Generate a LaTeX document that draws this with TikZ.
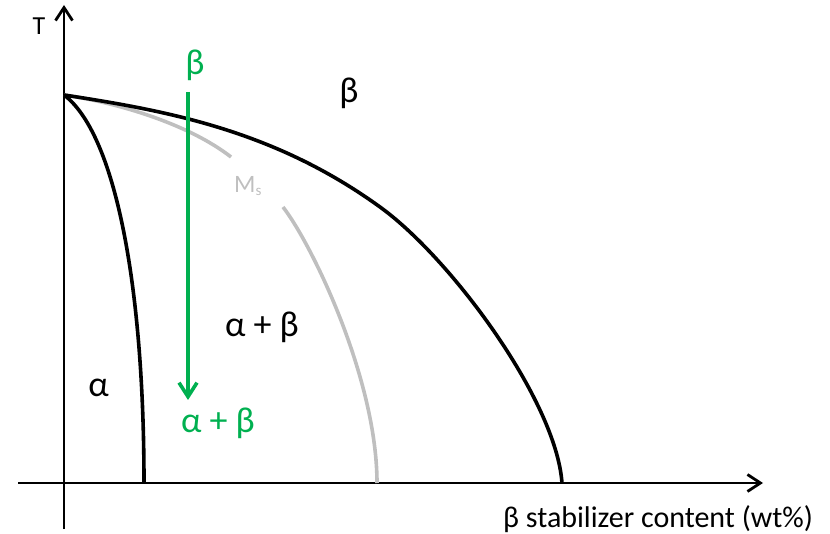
\documentclass[tikz,border=0pt]{standalone}
\usepackage{fontspec}
\setmainfont{Carlito}
\usetikzlibrary{arrows.meta}
\definecolor{ogreen}{RGB}{0,176,80}
\definecolor{ogray}{RGB}{191,191,191}
\begin{document}
\begin{tikzpicture}[x=1pt,y=-1pt,
  axis/.style={line width=2.8pt,black},
  axtip/.style={-{Straight Barb[length=13pt,width=17pt,line width=2.8pt]}},
  phase/.style={line width=3.6pt,black,line join=round},
  msline/.style={line width=3.6pt,ogray},
  lbl/.style={font=\fontsize{36}{36}\selectfont,anchor=base,inner sep=0pt},
  glbl/.style={lbl,text=ogreen},
  garrow/.style={line width=3.6pt,ogreen,-{Straight Barb[length=14pt,width=18pt,line width=3.6pt]}}]
\useasboundingbox (0,0) rectangle (830,534);
% axes
\coordinate (ybot) at (64,529);
\coordinate (ytop) at (64,5);
\coordinate (xl) at (18,483);
\coordinate (xr) at (763,483);
\draw[axis,axtip] (ybot) -- (ytop);
\draw[axis,axtip] (xl) -- (xr);
% key points
\coordinate (top) at (64,95);
\coordinate (msa) at (231,157);
\coordinate (msb) at (283,207);
\coordinate (msend) at (377,483);
\coordinate (bmid) at (380,207);
\coordinate (bend) at (562,483);
\coordinate (aend) at (144,483);
% Ms curve (gap left for its label)
\draw[msline] (top) .. controls (120,103) and (190,125) .. (msa);
\draw[msline] (msb) .. controls (313,246) and (377,380) .. (msend);
\node[text=ogray,font=\fontsize{25}{25}\selectfont,anchor=base west,inner sep=0pt] (ms) at (234,193) {M\raisebox{-3pt}{\fontsize{15}{15}\selectfont s}};
% beta transus
\draw[phase] (top) .. controls (169,111) and (275,131) .. (bmid)
  .. controls (450,257.4) and (556,400) .. (bend);
% alpha boundary
\draw[phase] (top) .. controls (114,132.5) and (144,280) .. (aend);
% green arrow
\coordinate (gtop) at (188,92);
\coordinate (gtip) at (188,400);
\draw[garrow] (gtop) -- (gtip);
% labels
\node[lbl,font=\fontsize{26}{26}\selectfont] (T) at (39,35) {T};
\node[glbl] (gb) at (195,75) {β};
\node[glbl] (gab) at (218,432) {α + β};
\node[lbl] (b) at (349,103) {β};
\node[lbl] (ab) at (262,337) {α + β};
\node[lbl] (a) at (98.5,397) {α};
\node[lbl,font=\fontsize{30}{30}\selectfont,anchor=base west] (xlab) at (503,527) {β stabilizer content (wt\%)};
\end{tikzpicture}
\end{document}
